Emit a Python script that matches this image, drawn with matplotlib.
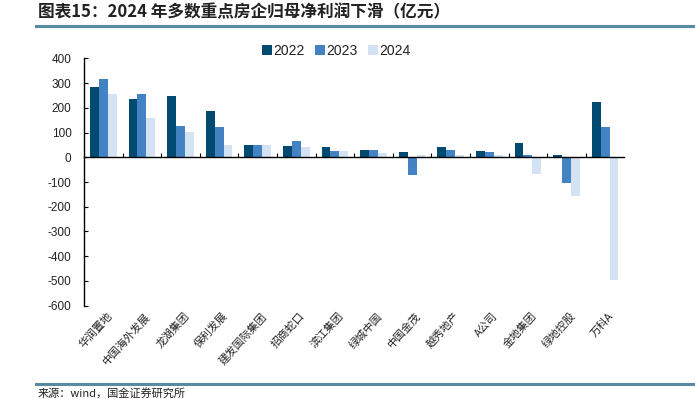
import matplotlib
matplotlib.use("Agg")
import matplotlib.pyplot as plt
import matplotlib.transforms as mtransforms
import numpy as np

plt.rcParams['font.family'] = ['Liberation Sans', 'Noto Sans CJK SC', 'DejaVu Sans']

categories = ["华润置地", "中国海外发展", "龙湖集团", "保利发展", "建发国际集团", "招商蛇口",
              "滨江集团", "绿城中国", "中国金茂", "越秀地产", "A公司", "金地集团", "绿地控股", "万科A"]
v2022 = [285, 236, 246, 187, 50, 45, 40, 31, 20, 40, 26, 59, 11, 225]
v2023 = [315, 255, 128, 123, 50, 66, 26, 31, -72, 31, 20, 11, -103, 123]
v2024 = [256, 158, 104, 50, 50, 40, 26, 16, 9, 9, 9, -67, -157, -495]
years = ["2022", "2023", "2024"]
colors = ["#004a72", "#4382c3", "#d3e3f3"]
yticks = [400, 300, 200, 100, 0, -100, -200, -300, -400, -500, -600]

W, H = 695, 399
fig = plt.figure(figsize=(W / 100, H / 100), dpi=100)
ax = fig.add_axes([84 / W, (H - 305.7) / H, 540.4 / W, 247.4 / H])

x = np.arange(len(categories))
bw = 0.228
for k, (vals, lab, c) in enumerate(zip([v2022, v2023, v2024], years, colors)):
    ax.bar(x + (k - 1) * bw, vals, width=bw, color=c, label=lab, edgecolor='none', zorder=2)

ax.set_xlim(-0.5, len(categories) - 0.5)
ax.set_ylim(-600, 400)
ax.set_yticks(yticks)
ax.set_yticklabels([str(t) for t in yticks], fontsize=8.5, color='#222222')
ax.tick_params(axis='y', direction='in', length=3, width=0.8, pad=9)

for s in ['top', 'right']:
    ax.spines[s].set_visible(False)
ax.spines['left'].set_linewidth(1.0)
ax.spines['bottom'].set_position(('data', 0))
ax.spines['bottom'].set_linewidth(1.0)
ax.spines['bottom'].set_zorder(3)
ax.set_xticks(np.arange(0.5, len(categories) - 0.5, 1.0))
ax.set_xticklabels([])
ax.tick_params(axis='x', direction='in', length=3, width=0.8)

trans = ax.get_xaxis_transform() + mtransforms.ScaledTranslation(0, -5 / 100, fig.dpi_scale_trans)
for i, name in enumerate(categories):
    ax.text(i + 0.08, 0, name, transform=trans, rotation=48, rotation_mode='anchor',
            ha='right', va='top', fontsize=7.8, family=['Noto Sans CJK SC', 'DejaVu Sans'],
            color='#222222', fontweight='light')

leg = fig.legend(loc='center', bbox_to_anchor=(336.5 / W, 1 - 51 / H), ncol=3, frameon=False,
                 fontsize=10, handlelength=0.7, handleheight=0.7, handletextpad=0.12,
                 columnspacing=0.75, borderaxespad=0)
for t in leg.get_texts():
    t.set_color('#222222')

fig.text(38 / W, 1 - 12 / H, "图表15：2024 年多数重点房企归母净利润下滑（亿元）",
         fontsize=12, fontweight='bold', ha='left', va='center',
         family=['Noto Sans CJK SC', 'DejaVu Sans'], color='#222222')
fig.add_artist(plt.Line2D([36 / W, 1.0], [1 - 26.3 / H, 1 - 26.3 / H], color='#5a8aa3', lw=2.2))
fig.add_artist(plt.Line2D([36 / W, 1.0], [1 - 384 / H, 1 - 384 / H], color='#5a8aa3', lw=2.2))
fig.text(38 / W, 1 - 393 / H, "来源：wind，国金证券研究所", fontsize=8, ha='left', va='center',
         family=['Noto Sans CJK SC', 'DejaVu Sans'], color='#222222')

fig.savefig("out.png", dpi=100)
